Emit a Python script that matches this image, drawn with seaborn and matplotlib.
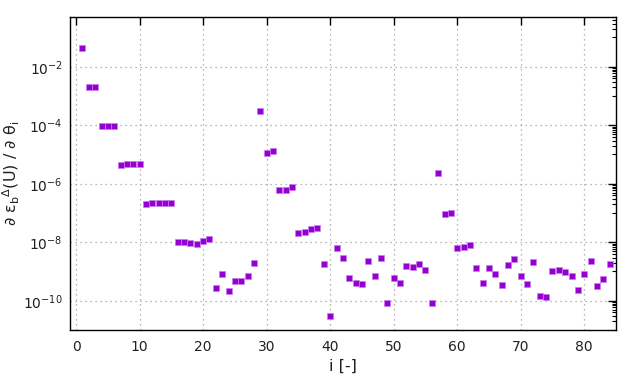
import numpy as np
import pandas as pd
import seaborn as sns
import matplotlib.pyplot as plt
from matplotlib.ticker import FixedLocator, LogFormatterMathtext, NullFormatter

sns.set_theme(style='white')
plt.rcParams['font.family'] = ['DejaVu Sans']
plt.rcParams['mathtext.fontset'] = 'dejavusans'

# parameter index and sensitivity values
index = list(range(1, 85))
sensitivity = [
    4.5e-2, 2.06e-3, 2.06e-3, 9.5e-5, 9.5e-5, 9.5e-5, 4.4e-6, 4.8e-6, 4.8e-6, 4.8e-6,
    2.0e-7, 2.2e-7, 2.2e-7, 2.2e-7, 2.2e-7, 1.0e-8, 1.0e-8, 9.2e-9, 8.5e-9, 1.08e-8,
    1.25e-8, 2.8e-10, 7.9e-10, 2.2e-10, 4.9e-10, 4.9e-10, 7.2e-10, 2.0e-9, 3.1e-4, 1.13e-5,
    1.33e-5, 6.2e-7, 6.2e-7, 7.9e-7, 2.05e-8, 2.2e-8, 2.8e-8, 3.0e-8, 1.75e-9, 3.0e-11,
    6.2e-9, 2.8e-9, 6.2e-10, 3.9e-10, 3.6e-10, 2.2e-9, 7.2e-10, 3.0e-9, 8.5e-11, 6.2e-10,
    4.2e-10, 1.6e-9, 1.4e-9, 1.75e-9, 1.17e-9, 8.5e-11, 2.3e-6, 9.3e-8, 1.0e-7, 6.3e-9,
    6.8e-9, 7.9e-9, 1.3e-9, 4.1e-10, 1.3e-9, 8.3e-10, 3.5e-10, 1.65e-9, 2.6e-9, 7.0e-10,
    3.8e-10, 2.1e-9, 1.5e-10, 1.37e-10, 1.0e-9, 1.17e-9, 9.3e-10, 7.2e-10, 2.35e-10, 7.9e-10,
    2.3e-9, 3.2e-10, 5.6e-10, 1.8e-9,
]

df = pd.DataFrame({'i': index, 'dS': sensitivity})

fig = plt.figure(figsize=(6.4, 3.84), dpi=100)
ax = fig.add_axes([0.109, 0.1406, 0.8535, 0.8151])

sns.scatterplot(data=df, x='i', y='dS', ax=ax, marker='s', s=14,
                color='#9400d3', edgecolor='#c77ee8', linewidth=0.5, zorder=3)

ax.set_yscale('log')
ax.set_xlim(-1, 85)
ax.set_ylim(1e-11, 0.5)

ax.set_xticks(range(0, 81, 10))
ax.yaxis.set_major_locator(FixedLocator([10.0 ** e for e in range(-10, 0, 2)]))
ax.yaxis.set_major_formatter(LogFormatterMathtext())
ax.yaxis.set_minor_locator(FixedLocator([m * 10.0 ** e for e in (-11, -9, -7, -5, -3, -1) for m in range(1, 10)]))
ax.yaxis.set_minor_formatter(NullFormatter())

ax.tick_params(which='both', direction='in', top=True, right=True, colors='black',
               labelsize=10, labelcolor='#202020')
ax.tick_params(which='major', length=6, width=1, pad=5)
ax.tick_params(which='minor', length=3, width=0.8)
ax.tick_params(axis='x', which='minor', bottom=False, top=False)
ax.tick_params(axis='x', pad=7)

for s in ax.spines.values():
    s.set_color('black')
    s.set_linewidth(1)

ax.grid(True, which='major', color='#a0a0a0', linestyle=(0, (1, 3)), linewidth=0.9)

ax.set_xlabel('i [-]', fontsize=11.5, color='#202020', labelpad=4)
ax.set_ylabel('∂ ε$_\\mathrm{b}$$^{\\Delta}$(U) / ∂ θ$_\\mathrm{i}$', fontsize=11.5, color='#202020')
ax.yaxis.set_label_coords(-0.088, 0.5)

plt.savefig('out.png', dpi=100)
